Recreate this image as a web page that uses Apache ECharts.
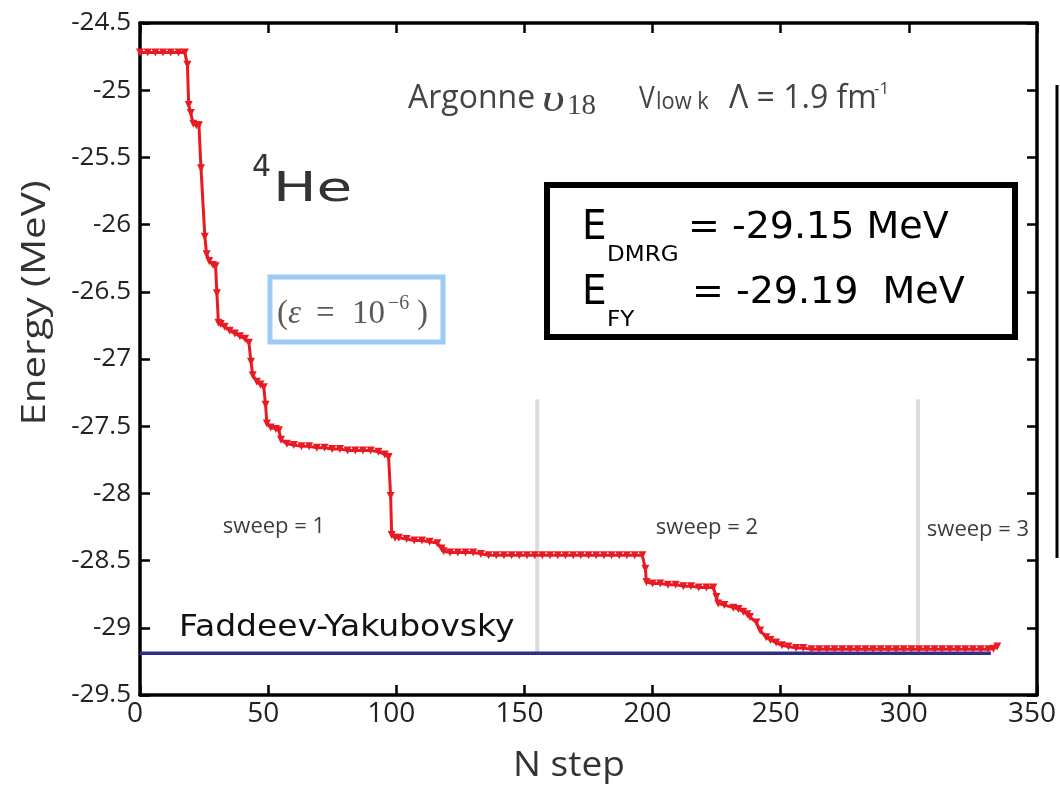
<!DOCTYPE html>
<html>
<head>
<meta charset="utf-8">
<script src="https://cdn.jsdelivr.net/npm/echarts@6/dist/echarts.min.js"></script>
<style>
html,body{margin:0;padding:0;background:#fff;}
#chart{width:1060px;height:786px;}
</style>
</head>
<body>
<div id="chart"></div>
<script>
// ---- data ----
const steps = [0,3,6,9,12,15,17.5,18.5,19,19.8,20.8,22,23,23.8,25.3,26,27,28.5,29.5,30,30.6,31.5,33,35,37,39,41,42.5,43.3,44,45.6,47,48.3,49,49.5,51,53,54.2,55,57.3,60,63,66,69,72,75,78,81,84,87,90,93,95.5,97,97.8,98.2,99.5,101,104,107,110,113,116,117.7,118.5,121,124,127,130,133,136,139,142,145,148,151,154,157,160,163,166,169,172,175,178,181,184,187,190,193,196,197.2,197.6,200,203,206,209,212,215,218,221,223.7,224.9,225.6,228,231.5,233.5,235.4,237,238,240.5,242,244.3,246,248.2,250.5,253,256,258.8,262,265,268,271,274,277,280,283,286,289,292,295,298,301,304,307,310,313,316,319,322,325,328,331,333,334.5];
const energy = [-24.72,-24.72,-24.72,-24.72,-24.72,-24.72,-24.72,-24.81,-25.11,-25.17,-25.25,-25.26,-25.26,-25.58,-26.09,-26.22,-26.27,-26.30,-26.31,-26.51,-26.73,-26.74,-26.76,-26.79,-26.81,-26.83,-26.85,-26.88,-27.02,-27.12,-27.17,-27.19,-27.21,-27.34,-27.48,-27.51,-27.52,-27.53,-27.60,-27.63,-27.64,-27.65,-27.65,-27.66,-27.66,-27.67,-27.67,-27.68,-27.68,-27.68,-27.68,-27.69,-27.71,-27.73,-28.02,-28.31,-28.33,-28.33,-28.34,-28.35,-28.35,-28.36,-28.37,-28.41,-28.43,-28.44,-28.44,-28.44,-28.44,-28.45,-28.46,-28.46,-28.46,-28.46,-28.46,-28.46,-28.46,-28.46,-28.46,-28.46,-28.46,-28.46,-28.46,-28.46,-28.46,-28.46,-28.46,-28.46,-28.46,-28.46,-28.46,-28.56,-28.66,-28.67,-28.67,-28.68,-28.68,-28.69,-28.69,-28.70,-28.70,-28.70,-28.77,-28.82,-28.83,-28.85,-28.86,-28.88,-28.90,-28.92,-28.96,-29.02,-29.07,-29.09,-29.11,-29.13,-29.14,-29.15,-29.15,-29.16,-29.16,-29.16,-29.16,-29.16,-29.16,-29.16,-29.16,-29.16,-29.16,-29.16,-29.16,-29.16,-29.16,-29.16,-29.16,-29.16,-29.16,-29.16,-29.16,-29.16,-29.16,-29.16,-29.16,-29.155,-29.14];
const fyEnergy = -29.19;
const fyRange = [0, 332];
const sweepBounds = [155, 303.6];
const sweepLineTop = -27.3;
const sweepLabels = ['sweep = 1', 'sweep = 2', 'sweep = 3'];
const xTicks = {min: 0, max: 350, interval: 50};
const yTicks = {min: -29.5, max: -24.5, interval: 0.5};

const chart = echarts.init(document.getElementById('chart'), null, {renderer: 'canvas'});
const lab = '"Open Sans", "DejaVu Sans", sans-serif';
const comic = '"DejaVu Sans", sans-serif';
const serif = '"Liberation Serif", "DejaVu Serif", serif';

const axisCommon = {
  axisLine: {show: true, onZero: false, lineStyle: {color: '#000', width: 3.5}},
  axisTick: {show: true, inside: true, length: 10, lineStyle: {color: '#000', width: 2.5}},
  splitLine: {show: false}
};

const dmrg = steps.map((s, i) => [s, energy[i]]);

const sweepSeries = sweepBounds.map(b => ({
  type: 'line', data: [[b, sweepLineTop], [b, fyEnergy]], symbol: 'none', silent: true, z: 1,
  lineStyle: {color: '#dcdcdc', width: 4}
}));

const T = (x, y, text, font, fill, extra) => Object.assign({type: 'text', x: x, y: y,
  style: {text: text, font: font, fill: fill, verticalAlign: 'middle'}}, extra || {});

chart.setOption({
  animation: false,
  backgroundColor: '#fff',
  grid: {left: 140, right: 23, top: 23, bottom: 91},
  xAxis: [
    Object.assign({type: 'value', position: 'bottom', min: xTicks.min, max: xTicks.max, interval: xTicks.interval,
      axisLabel: {fontSize: 28, color: '#222', fontFamily: lab, margin: 5, padding: [0, 10, 0, 0]}}, axisCommon),
    Object.assign({type: 'value', position: 'top', min: xTicks.min, max: xTicks.max, interval: xTicks.interval,
      axisLabel: {show: false}}, axisCommon)
  ],
  yAxis: [
    Object.assign({type: 'value', position: 'left', min: yTicks.min, max: yTicks.max, interval: yTicks.interval,
      axisLabel: {fontSize: 26, color: '#222', fontFamily: lab, margin: 9, padding: [10, 0, 0, 0]}}, axisCommon),
    Object.assign({type: 'value', position: 'right', min: yTicks.min, max: yTicks.max, interval: yTicks.interval,
      axisLabel: {show: false}}, axisCommon)
  ],
  series: [
    ...sweepSeries,
    {
      type: 'line', data: [[fyRange[0], fyEnergy], [fyRange[1], fyEnergy]], symbol: 'none', z: 2,
      lineStyle: {color: '#2a2e8c', width: 3.5}
    },
    {
      type: 'line', data: dmrg, z: 3,
      symbol: 'triangle', symbolRotate: 180, symbolSize: 8,
      itemStyle: {color: '#ea1a22'},
      lineStyle: {color: '#ea1a22', width: 3}
    }
  ],
  graphic: [
    // axis titles
    {type: 'text', x: 36, y: 303, rotation: Math.PI / 2, scaleX: 1.22,
      style: {text: 'Energy (MeV)', font: '33px ' + lab, fill: '#333', align: 'center', verticalAlign: 'middle'}},
    {type: 'text', x: 569, y: 766, scaleX: 1.06,
      style: {text: 'N step', font: '35px ' + lab, fill: '#333', align: 'center', verticalAlign: 'middle'}},
    // right-edge line of neighbouring panel
    {type: 'line', shape: {x1: 1057, y1: 85, x2: 1057, y2: 558}, style: {stroke: '#000', lineWidth: 3}},
    // title line
    T(408, 99, 'Argonne', '32px ' + lab, '#444'),
    T(542, 101, 'υ', 'italic 38px ' + serif, '#444', {scaleX: 1.3}),
    T(567, 106, '18', '29px ' + serif, '#444'),
    T(639, 99, 'V', '31px ' + lab, '#444', {scaleX: 0.85}),
    T(656, 102, 'low k', '23px ' + lab, '#444', {scaleX: 0.95}),
    T(729, 99, 'Λ = 1.9 fm', '32px ' + lab, '#444'),
    T(874, 89, '-1', '17px ' + lab, '#444'),
    // 4He
    T(252, 168, '4', '30px ' + comic, '#333'),
    T(273, 191, 'He', '40px ' + comic, '#333', {scaleX: 1.45}),
    // epsilon box
    {type: 'rect', shape: {x: 270, y: 277, width: 173, height: 65}, style: {fill: '#fff', stroke: '#9ccbf6', lineWidth: 5}},
    T(277, 314, '(', '33px ' + serif, '#5a5a5a'),
    T(288, 314, 'ε', 'italic 33px ' + serif, '#5a5a5a'),
    T(316, 314, '=', '33px ' + serif, '#5a5a5a'),
    T(352, 314, '10', '33px ' + serif, '#5a5a5a'),
    T(388, 304, '−6', '20px ' + serif, '#5a5a5a'),
    T(417, 314, ')', '33px ' + serif, '#5a5a5a'),
    // energy box
    {type: 'rect', shape: {x: 547, y: 185, width: 468, height: 152}, style: {fill: '#fff', stroke: '#000', lineWidth: 6}},
    T(582, 228, 'E', '41px ' + comic, '#000', {scaleX: 0.95}),
    T(607, 255, 'DMRG', '22px ' + comic, '#000', {scaleX: 1.05}),
    T(688, 228, '= -29.15 MeV', '38px ' + comic, '#000'),
    T(582, 293, 'E', '41px ' + comic, '#000', {scaleX: 0.95}),
    T(607, 320, 'FY', '22px ' + comic, '#000', {scaleX: 1.05}),
    T(692, 293, '= -29.19  MeV', '38px ' + comic, '#000'),
    // sweep labels
    {type: 'text', x: 274, y: 527, style: {text: sweepLabels[0], font: '22px ' + lab, fill: '#3d3d3d', align: 'center', verticalAlign: 'middle'}},
    {type: 'text', x: 707, y: 528, style: {text: sweepLabels[1], font: '22px ' + lab, fill: '#3d3d3d', align: 'center', verticalAlign: 'middle'}},
    {type: 'text', x: 978, y: 530, style: {text: sweepLabels[2], font: '22px ' + lab, fill: '#3d3d3d', align: 'center', verticalAlign: 'middle'}},
    // Faddeev-Yakubovsky
    T(179, 628, 'Faddeev-Yakubovsky', '30px ' + comic, '#111', {scaleX: 1.10})
  ]
});
</script>
</body>
</html>
